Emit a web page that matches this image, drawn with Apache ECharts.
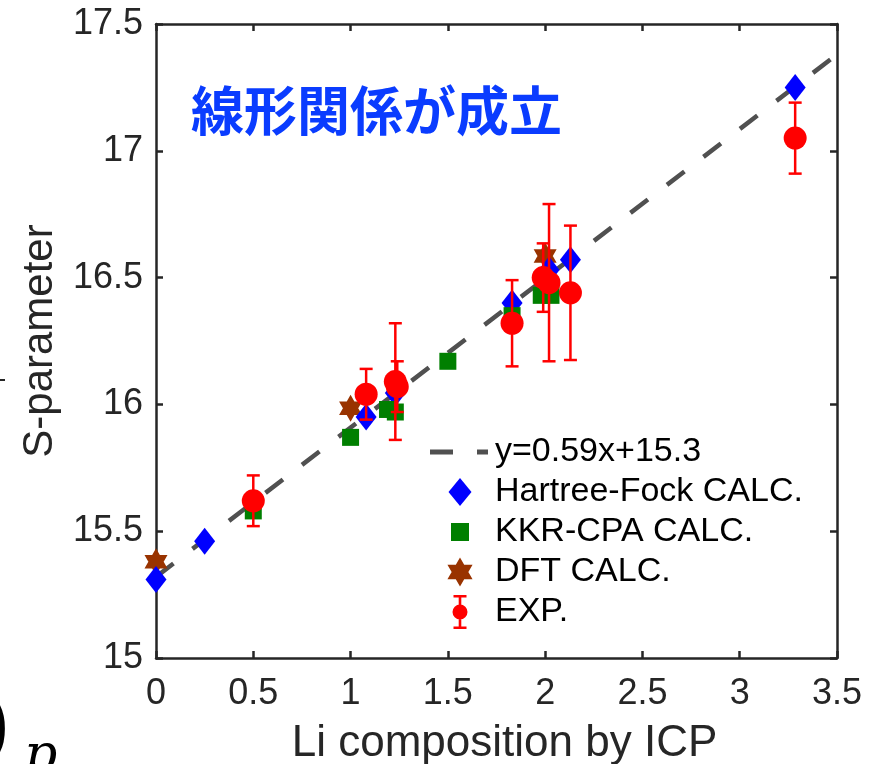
<!DOCTYPE html>
<html>
<head>
<meta charset="utf-8">
<script src="https://cdn.jsdelivr.net/npm/echarts@6/dist/echarts.min.js"></script>
<style>
  html, body { margin: 0; padding: 0; background: #ffffff; }
  #chart { width: 869px; height: 764px; }
</style>
</head>
<body>
<div id="chart"></div>
<script>
// ---- data ----
const xTicks = [0, 0.5, 1, 1.5, 2, 2.5, 3, 3.5];
const yTicks = [15, 15.5, 16, 16.5, 17, 17.5];

const fitLabel = 'y=0.59x+15.3';
const fitX = [0, 3.5];
const fitY = [15.32, 17.38];

const hfX = [0, 0.25, 1.08, 1.23, 1.83, 2.02, 2.13, 3.285];
const hfY = [15.31, 15.46, 15.95, 16.045, 16.40, 16.53, 16.57, 17.25];

const kkrX = [0.5, 1.0, 1.19, 1.23, 1.5, 1.83, 1.98, 2.03];
const kkrY = [15.58, 15.87, 15.98, 15.97, 16.17, 16.35, 16.43, 16.43];

const dftX = [0, 1.0, 2.0];
const dftY = [15.38, 15.985, 16.585];

const expX = [0.5, 1.08, 1.23, 1.24, 1.83, 1.99, 2.02, 2.13, 3.285];
const expY = [15.62, 16.04, 16.09, 16.07, 16.32, 16.50, 16.48, 16.44, 17.05];
const expErr = [0.10, 0.10, 0.23, 0.10, 0.17, 0.135, 0.31, 0.265, 0.14];

const seriesNames = ['Hartree-Fock CALC.', 'KKR-CPA CALC.', 'DFT CALC.', 'EXP.'];
const xName = 'Li composition by ICP';
const yName = 'S-parameter';
const noteText = '線形関係が成立';

// ---- helpers ----
const zip = (xs, ys) => xs.map((x, i) => [x, ys[i]]);
const FONT = "'Liberation Sans', Arial, Helvetica, sans-serif";
const AXIS_COLOR = '#262626';

// legend icons drawn in a 60 x 36 box (bounding moves fix the box)
const BOX = 'M0,0 M60,36 ';
const iconDash = 'path://' + BOX + 'M0,15.5 h23 v5 h-23 Z M47,15.5 h11 v5 h-11 Z';
const iconDiamond = 'path://' + BOX + 'M30,4 L41.5,18 L30,32 L18.5,18 Z';
const iconSquare = 'path://' + BOX + 'M21,9 h18 v18 h-18 Z';
const iconStar = 'path://' + BOX + 'M30,3.5 L42.56,25.25 L17.44,25.25 Z M30,32.5 L17.44,10.75 L42.56,10.75 Z';
const iconExp = 'path://' + BOX +
  'M23.5,1 h13 v2.5 h-13 Z M28.7,1 h2.6 v34 h-2.6 Z M23.5,32.5 h13 v2.5 h-13 Z ' +
  'M22.5,18 A7.5,7.5 0 1,1 37.5,18 A7.5,7.5 0 1,1 22.5,18 Z';
const starSymbol = 'path://M0,-1 L0.866,0.5 L-0.866,0.5 Z M0,1 L-0.866,-0.5 L0.866,-0.5 Z';

const chart = echarts.init(document.getElementById('chart'), null, { renderer: 'canvas' });

const axisCommon = {
  min: 0, max: 3.5, interval: 0.5,
  axisLine: { show: true, onZero: false, lineStyle: { color: AXIS_COLOR, width: 2.5 } },
  axisTick: { show: true, inside: true, length: 7, lineStyle: { color: AXIS_COLOR, width: 2.5 } },
  splitLine: { show: false }
};

const option = {
  backgroundColor: '#ffffff',
  animation: false,
  grid: { left: 156, right: 32, top: 24, bottom: 106, containLabel: false, outerBoundsMode: 'none' },
  xAxis: [
    Object.assign({}, axisCommon, {
      type: 'value', position: 'bottom',
      name: xName, nameLocation: 'middle', nameGap: 64,
      nameTextStyle: { fontFamily: FONT, fontSize: 44, color: AXIS_COLOR, padding: [0, 0, 0, 16] },
      axisLabel: {
        show: true, margin: 18, fontFamily: FONT, fontSize: 36, color: AXIS_COLOR,
        showMinLabel: true, showMaxLabel: true,
        formatter: v => String(xTicks.find(t => Math.abs(t - v) < 1e-9) ?? v)
      }
    }),
    Object.assign({}, axisCommon, {
      type: 'value', position: 'top',
      axisLabel: { show: false }
    })
  ],
  yAxis: [
    Object.assign({}, axisCommon, {
      type: 'value', position: 'left', min: 15, max: 17.5, interval: 0.5,
      name: yName, nameLocation: 'middle', nameGap: 95, nameRotate: 90,
      nameTextStyle: { fontFamily: FONT, fontSize: 42, color: AXIS_COLOR },
      axisLabel: {
        show: true, margin: 13, fontFamily: FONT, fontSize: 36, color: AXIS_COLOR,
        showMinLabel: true, showMaxLabel: true,
        formatter: v => String(yTicks.find(t => Math.abs(t - v) < 1e-9) ?? v)
      }
    }),
    Object.assign({}, axisCommon, {
      type: 'value', position: 'right', min: 15, max: 17.5, interval: 0.5,
      axisLabel: { show: false }
    })
  ],
  legend: {
    orient: 'vertical',
    left: 430, top: 434,
    padding: 0,
    itemWidth: 60, itemHeight: 36, itemGap: 4,
    symbolKeepAspect: true,
    selectedMode: false,
    itemStyle: { borderWidth: 0 },
    textStyle: { fontFamily: FONT, fontSize: 34, color: '#000000' },
    data: [
      { name: fitLabel, icon: iconDash },
      { name: seriesNames[0], icon: iconDiamond },
      { name: seriesNames[1], icon: iconSquare },
      { name: seriesNames[2], icon: iconStar },
      { name: seriesNames[3], icon: iconExp }
    ]
  },
  graphic: [
    {
      type: 'text', left: 191, top: 84,
      style: {
        text: noteText,
        fontFamily: "'Noto Sans CJK JP', sans-serif",
        fontWeight: 'bold', fontSize: 53, fill: '#0a3cff'
      }
    },
    {
      type: 'text', left: -20, top: 692,
      style: { text: ')', fontFamily: "'DejaVu Serif', serif", fontSize: 80, fill: '#000000' }
    },
    {
      type: 'text', left: 24, top: 731,
      style: { text: 'p', fontFamily: "'DejaVu Serif', serif", fontStyle: 'italic', fontSize: 52, fill: '#000000' }
    },
    {
      type: 'rect', shape: { x: 0, y: 379, width: 5, height: 2 },
      style: { fill: '#262626' }
    }
  ],
  series: [
    {
      name: fitLabel, type: 'line',
      xAxisIndex: 0, yAxisIndex: 0,
      data: zip(fitX, fitY),
      symbol: 'none', silent: true,
      itemStyle: { color: '#505050' },
      lineStyle: { color: '#505050', width: 4.5, type: [22, 24] },
      z: 1
    },
    {
      name: seriesNames[2], type: 'scatter',
      data: zip(dftX, dftY),
      symbol: starSymbol, symbolSize: [23, 27],
      itemStyle: { color: '#993300', opacity: 1 },
      z: 2
    },
    {
      name: seriesNames[0], type: 'scatter',
      data: zip(hfX, hfY),
      symbol: 'diamond', symbolSize: [21, 27],
      itemStyle: { color: '#0000ff', opacity: 1 },
      z: 3
    },
    {
      name: seriesNames[1], type: 'scatter',
      data: zip(kkrX, kkrY),
      symbol: 'rect', symbolSize: 17,
      itemStyle: { color: '#007f00', opacity: 1 },
      z: 4
    },
    {
      name: seriesNames[3], type: 'custom',
      data: expX.map((x, i) => [x, expY[i], expErr[i]]),
      itemStyle: { color: '#ff0000' },
      encode: { x: 0, y: 1 },
      renderItem: function (params, api) {
        const x = api.value(0), y = api.value(1), e = api.value(2);
        const top = api.coord([x, y + e]);
        const bot = api.coord([x, y - e]);
        const hw = 6.5;
        const st = { stroke: '#ff0000', lineWidth: 2.5 };
        return {
          type: 'group',
          children: [
            { type: 'line', shape: { x1: top[0], y1: top[1], x2: bot[0], y2: bot[1] }, style: st },
            { type: 'line', shape: { x1: top[0] - hw, y1: top[1], x2: top[0] + hw, y2: top[1] }, style: st },
            { type: 'line', shape: { x1: bot[0] - hw, y1: bot[1], x2: bot[0] + hw, y2: bot[1] }, style: st }
          ]
        };
      },
      z: 5
    },
    {
      name: seriesNames[3], type: 'scatter',
      data: zip(expX, expY),
      symbol: 'circle', symbolSize: 23,
      itemStyle: { color: '#ff0000', opacity: 1 },
      z: 6
    }
  ]
};

chart.setOption(option);
</script>
</body>
</html>
